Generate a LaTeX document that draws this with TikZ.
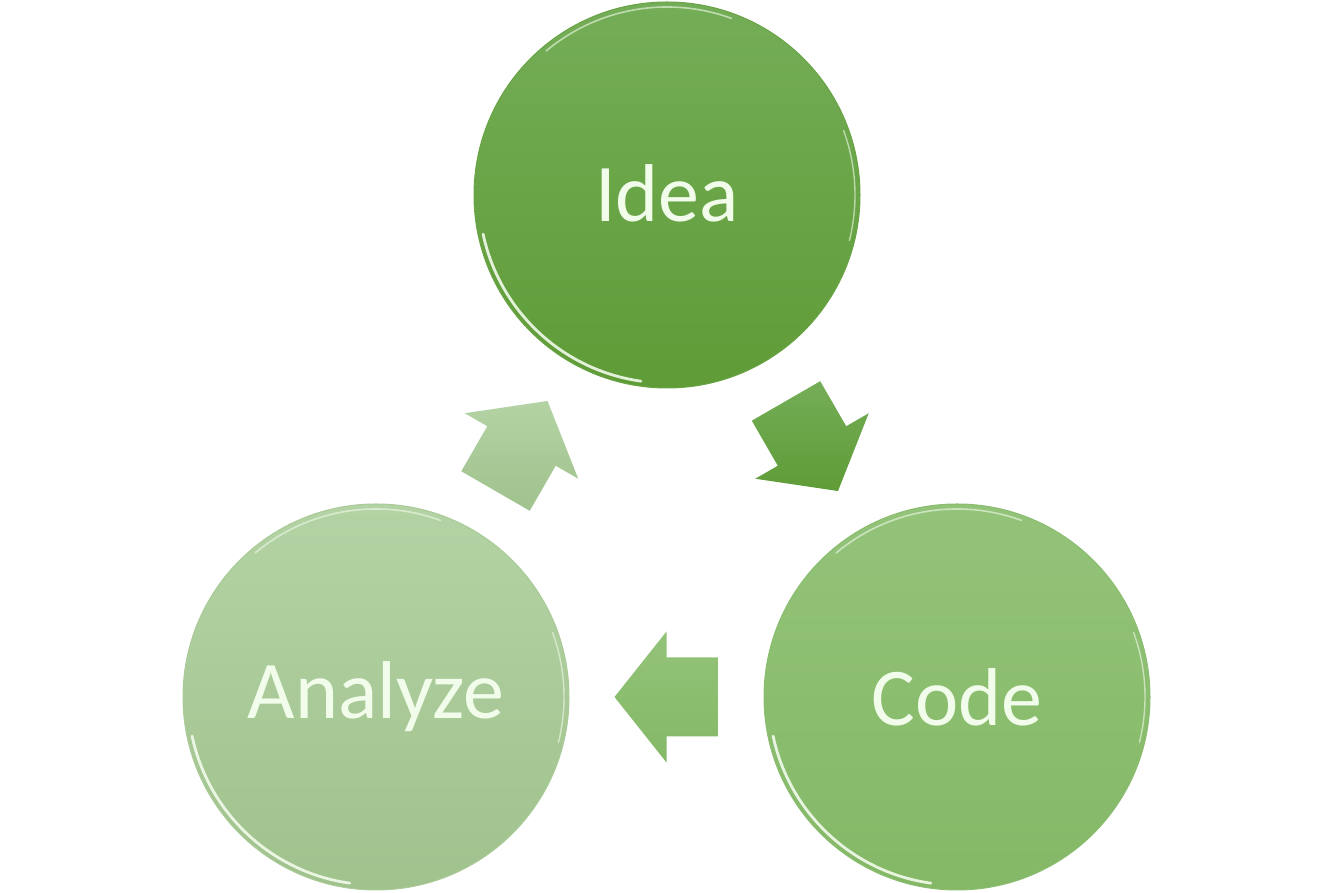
\documentclass[tikz,border=0pt]{standalone}
\usepackage{fontspec}
\setmainfont{Carlito}
\usetikzlibrary{calc}
\definecolor{ideaT}{HTML}{74AD57}
\definecolor{ideaB}{HTML}{5F9C37}
\definecolor{codeT}{HTML}{93C379}
\definecolor{codeB}{HTML}{84B866}
\definecolor{anaT}{HTML}{B3D3A4}
\definecolor{anaB}{HTML}{A0C28D}
\definecolor{txt}{HTML}{F2FCEB}
\definecolor{rim}{HTML}{F2FBEC}
\tikzset{
  x=1pt, y=1pt,
  bubble/.style={circle, minimum size=386pt, inner sep=0pt, text=txt,
    line width=1pt, font=\fontsize{82}{90}\selectfont},
  barrow/.pic={
    \path[pic actions] (-52,-39.5) -- (0,-39.5) -- (0,-65.5) -- (52,0)
      -- (0,65.5) -- (0,39.5) -- (-52,39.5) -- cycle;
  },
  gloss/.style={draw=rim, line width=2.8pt, line cap=round, opacity=0.9},
}
\begin{document}
\begin{tikzpicture}
\useasboundingbox (0,0) rectangle (1334,893);
% circles
\node[bubble, draw=ideaT!50!ideaB, top color=ideaT, bottom color=ideaB] (idea) at (667,698) {\raisebox{4pt}{Idea}};
\node[bubble, draw=codeT!50!codeB, top color=codeT, bottom color=codeB] (code) at (957,196) {Code};
\node[bubble, draw=anaT!50!anaB, top color=anaT, bottom color=anaB] (analyze) at (376,196) {Analyze};
% glossy rims
\foreach \n in {idea,code,analyze}{
  \draw[gloss] ($(\n.center)+(192:188)$) arc (192:262:188);
  \draw[gloss, line width=1.6pt, opacity=0.6] ($(\n.center)+(70:188)$) arc (70:130:188);
  \draw[gloss, line width=1.4pt, opacity=0.6] ($(\n.center)+(-14:188)$) arc (-14:20:188);
}
% block arrows
\pic[rotate=-60, top color=ideaT, bottom color=ideaB] at ($(idea)!0.5!(code)$) {barrow};
\pic[rotate=180, top color=codeT, bottom color=codeB] at ($(code)!0.5!(analyze)$) {barrow};
\pic[rotate=60, top color=anaT, bottom color=anaB] at ($(analyze)!0.5!(idea)$) {barrow};
\end{tikzpicture}
\end{document}
